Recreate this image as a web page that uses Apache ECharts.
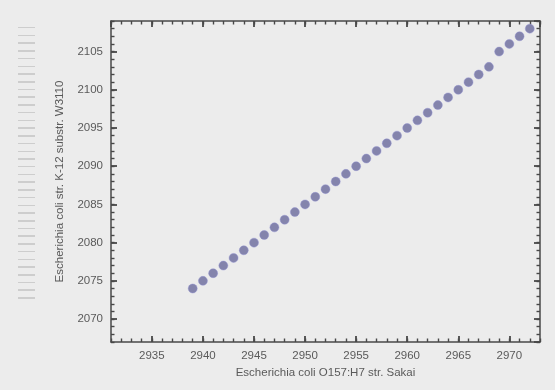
<!DOCTYPE html>
<html>
<head>
<meta charset="utf-8">
<script src="https://cdn.jsdelivr.net/npm/echarts@6/dist/echarts.min.js"></script>
<style>
html,body{margin:0;padding:0;background:#ececec;}
#wrap{position:relative;width:555px;height:390px;}
#c{width:555px;height:390px;}
#stripes{position:absolute;left:18px;top:27px;width:17px;height:277px;
  background:repeating-linear-gradient(to bottom,#cdcdcd 0px,#cdcdcd 1.5px,transparent 1.5px,transparent 7.72px);}
</style>
</head>
<body>
<div id="wrap"><div id="stripes"></div><div id="c"></div></div>
<script>
// Data
const xValues = [2939,2940,2941,2942,2943,2944,2945,2946,2947,2948,2949,2950,2951,2952,2953,2954,2955,2956,2957,2958,2959,2960,2961,2962,2963,2964,2965,2966,2967,2968,2969,2970,2971,2972];
const yValues = [2074,2075,2076,2077,2078,2079,2080,2081,2082,2083,2084,2085,2086,2087,2088,2089,2090,2091,2092,2093,2094,2095,2096,2097,2098,2099,2100,2101,2102,2103,2105,2106,2107,2108];
const xTitle = 'Escherichia coli O157:H7 str. Sakai';
const yTitle = 'Escherichia coli str. K-12 substr. W3110';
const xRange = [2931, 2973];
const yRange = [2067, 2109];

const points = xValues.map((x, i) => [x, yValues[i]]);

const axisColor = '#484848';
const fontFam = 'Liberation Sans Narrow, Liberation Sans, Arial, sans-serif';
const g = { left: 111, top: 21, right: 15, bottom: 48 };
const fmt = v => (v % 5 === 0 ? String(v) : '');
const majorTick = { show: true, inside: true, length: 6, lineStyle: { color: axisColor, width: 1.8 } };
const minorTick = { show: true, inside: true, length: 3.5, lineStyle: { color: axisColor, width: 1.4 } };

const chart = echarts.init(document.getElementById('c'));
chart.setOption({
  animation: false,
  grid: [Object.assign({}, g), Object.assign({}, g)],
  xAxis: [
    { type: 'value', gridIndex: 0, position: 'bottom', min: xRange[0], max: xRange[1], splitNumber: 8,
      name: xTitle, nameLocation: 'middle', nameGap: 24,
      nameTextStyle: { color: '#5a5a5a', fontSize: 11.5, fontFamily: fontFam },
      axisTick: majorTick,
      axisLine: { show: true, onZero: false, lineStyle: { color: axisColor, width: 1.5 } },
      axisLabel: { showMinLabel: false, showMaxLabel: false, margin: 8, formatter: fmt, color: '#5a5a5a', fontSize: 11.5, fontFamily: fontFam },
      splitLine: { show: false } },
    { type: 'value', gridIndex: 0, position: 'top', min: xRange[0], max: xRange[1], splitNumber: 8,
      axisTick: majorTick,
      axisLine: { show: true, onZero: false, lineStyle: { color: axisColor, width: 1.5 } },
      axisLabel: { show: false }, splitLine: { show: false } },
    { type: 'value', gridIndex: 1, position: 'bottom', min: xRange[0], max: xRange[1], interval: 1,
      axisTick: minorTick,
      axisLine: { show: false }, axisLabel: { show: false }, splitLine: { show: false } },
    { type: 'value', gridIndex: 1, position: 'top', min: xRange[0], max: xRange[1], interval: 1,
      axisTick: minorTick,
      axisLine: { show: false }, axisLabel: { show: false }, splitLine: { show: false } }
  ],
  yAxis: [
    { type: 'value', gridIndex: 0, position: 'left', min: yRange[0], max: yRange[1], splitNumber: 8,
      name: yTitle, nameLocation: 'middle', nameGap: 45, nameRotate: 90,
      nameTextStyle: { color: '#5a5a5a', fontSize: 11.5, fontFamily: fontFam },
      axisTick: majorTick,
      axisLine: { show: true, onZero: false, lineStyle: { color: axisColor, width: 1.5 } },
      axisLabel: { showMinLabel: false, showMaxLabel: false, margin: 8, formatter: fmt, color: '#5a5a5a', fontSize: 11.5, fontFamily: fontFam },
      splitLine: { show: false } },
    { type: 'value', gridIndex: 0, position: 'right', min: yRange[0], max: yRange[1], splitNumber: 8,
      axisTick: majorTick,
      axisLine: { show: true, onZero: false, lineStyle: { color: axisColor, width: 1.5 } },
      axisLabel: { show: false }, splitLine: { show: false } },
    { type: 'value', gridIndex: 1, position: 'left', min: yRange[0], max: yRange[1], interval: 1,
      axisTick: minorTick,
      axisLine: { show: false }, axisLabel: { show: false }, splitLine: { show: false } },
    { type: 'value', gridIndex: 1, position: 'right', min: yRange[0], max: yRange[1], interval: 1,
      axisTick: minorTick,
      axisLine: { show: false }, axisLabel: { show: false }, splitLine: { show: false } }
  ],
  series: [{
    type: 'scatter', xAxisIndex: 0, yAxisIndex: 0,
    data: points, symbol: 'circle', symbolSize: 9,
    itemStyle: { color: '#6a6a9c', borderColor: 'rgba(140,140,210,0.5)', borderWidth: 1 }
  }]
});
</script>
</body>
</html>
